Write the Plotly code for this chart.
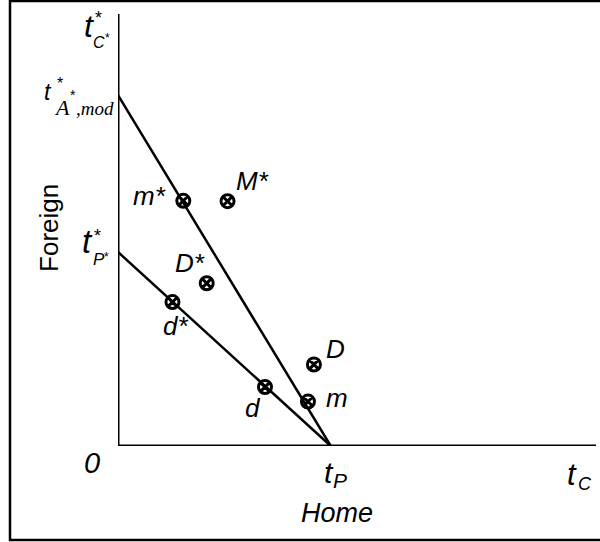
import plotly.graph_objects as go

# ---------------- data ----------------
point_names = ["m*", "M*", "D*", "d*", "d", "D", "m", "tP"]
point_x = [0.307, 0.515, 0.417, 0.256, 0.691, 0.921, 0.893, 1.0]
point_y = [1.264, 1.262, 0.839, 0.742, 0.304, 0.420, 0.229, -0.034]

t_P = 1.0            # home intercept on horizontal axis
t_Pstar = 1.0        # foreign intercept t*_P*
t_Amod = 1.809       # foreign intercept t*_A*,mod
x_max = 2.247        # end of horizontal axis (t_C)
y_max = 2.227        # top of vertical axis (t*_C*)

line_mod_x = [0.0, t_P]
line_mod_y = [t_Amod, 0.0]
line_p_x = [0.0, t_P]
line_p_y = [t_Pstar, 0.0]

SANS = "Liberation Sans, Arial, sans-serif"
SERIF = "Liberation Serif, Times New Roman, serif"

fig = go.Figure()

# axes
fig.add_trace(go.Scatter(x=[0, 0], y=[0, y_max], mode="lines",
                         line=dict(color="black", width=3), cliponaxis=False,
                         hoverinfo="skip", showlegend=False))
fig.add_trace(go.Scatter(x=[0, x_max], y=[0, 0], mode="lines",
                         line=dict(color="black", width=3), cliponaxis=False,
                         hoverinfo="skip", showlegend=False))
# the two lines
fig.add_trace(go.Scatter(x=line_mod_x, y=line_mod_y, mode="lines",
                         line=dict(color="black", width=2.5), cliponaxis=False,
                         showlegend=False))
fig.add_trace(go.Scatter(x=line_p_x, y=line_p_y, mode="lines",
                         line=dict(color="black", width=2.5), cliponaxis=False,
                         showlegend=False))
# points
fig.add_trace(go.Scatter(x=point_x, y=point_y, mode="markers", text=point_names,
                         marker=dict(symbol="circle-x-open", size=13, color="black",
                                     line=dict(color="black", width=3)),
                         cliponaxis=False, showlegend=False))

annotations = []


def lab(text, xd, yd, dx, dy_base, size, anchor="left", family=SANS, italic=True,
        angle=0, asc=0.3465):
    """dx: pixel shift of anchor edge; dy_base: pixel offset (down) of baseline."""
    center_dy = dy_base - asc * size
    annotations.append(dict(
        text=text, x=xd, y=yd, xref="x", yref="y", showarrow=False,
        xanchor=anchor, yanchor="middle", xshift=dx, yshift=-center_dy,
        textangle=angle,
        font=dict(family=family, size=size, color="black",
                  style="italic" if italic else "normal")))


# point labels
px = dict(zip(point_names, zip(point_x, point_y)))
lab("m*", *px["m*"], -15, 4, 26, anchor="right")
lab("M*", *px["M*"], 6, -11, 26)
lab("D*", *px["D*"], 0, -11, 26, anchor="right")
lab("d*", *px["d*"], -11, 33, 26)
lab("d", *px["d"], -22, 30, 26)
lab("D", *px["D"], 10, -6.5, 26)
lab("m", *px["m"], 16, 5.5, 26)

# t*_C* (top of vertical axis)
lab("t", 0, y_max, -36, 23, 32)
lab("*", 0, y_max, -25, 10, 18, italic=False)
lab("C", 0, y_max, -27, 34, 16)
lab("*", 0, y_max, -15, 28, 12, italic=False)

# t*_A*,mod
lab("t", 0, t_Amod, -76, 5, 23)
lab("*", 0, t_Amod, -63, -6, 16, italic=False)
lab("A", 0, t_Amod, -66, 20, 22, family=SERIF, asc=0.3375)
lab("*", 0, t_Amod, -50, 5, 14, italic=False)
lab(",mod", 0, t_Amod, -44, 20, 19, family=SERIF, asc=0.3375)

# t*_P*
lab("t", 0, t_Pstar, -38, 1, 33)
lab("*", 0, t_Pstar, -26, -10, 18, italic=False)
lab("P", 0, t_Pstar, -27, 13, 17)
lab("*", 0, t_Pstar, -16, 9, 12, italic=False)

# origin
lab("0", 0, 0, -26, 27, 29, anchor="center")

# t_P and Home
lab("t", t_P, 0, -9, 37, 30)
lab("P", t_P, 0, 0, 42, 21)
lab("Home", t_P, 0, 6, 76, 27, anchor="center")

# t_C
lab("t", x_max, 0, -31, 39, 31)
lab("C", x_max, 0, -20, 44, 18)

# Foreign (rotated)
annotations.append(dict(
    text="Foreign", x=0, y=1.124, xref="x", yref="y", showarrow=False,
    xanchor="center", yanchor="middle", xshift=-69, textangle=-90,
    font=dict(family=SANS, size=26, color="black")))

# frame around the figure (right side runs off the canvas)
L, T, B, R = 118, 14, 96, 4
W, H = 600, 542
pw, ph = W - L - R, H - T - B
shapes = [dict(type="rect", xref="paper", yref="paper",
               x0=(10 - L) / pw, x1=(603 - L) / pw,
               y0=(H - B - 540) / ph, y1=(H - B - 1) / ph,
               line=dict(color="black", width=2.5))]

fig.update_layout(
    width=W, height=H,
    margin=dict(l=L, r=R, t=T, b=B, pad=0),
    paper_bgcolor="white", plot_bgcolor="white",
    xaxis=dict(range=[0, x_max], visible=False, fixedrange=True),
    yaxis=dict(range=[0, y_max], visible=False, fixedrange=True),
    annotations=annotations, shapes=shapes,
    showlegend=False,
)

fig.write_html(
    "out.html",
    config={"displayModeBar": False},
    post_script="document.body.style.margin='0';document.body.style.padding='0';"
                "document.body.style.overflow='hidden';",
)
